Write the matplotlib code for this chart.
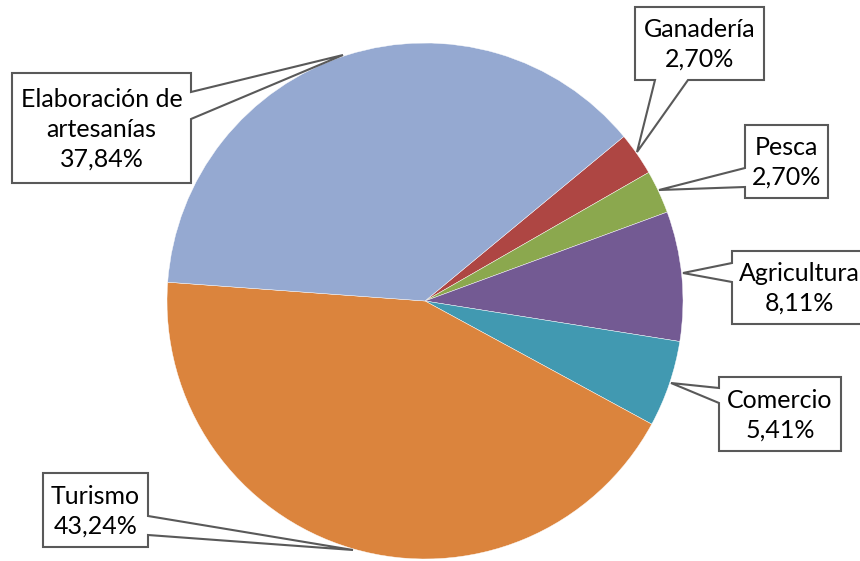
import matplotlib.pyplot as plt
from matplotlib.patches import Polygon

# datos (porcentajes)
sectores = ['Ganadería', 'Pesca', 'Agricultura', 'Comercio', 'Turismo', 'Elaboración de\nartesanías']
valores = [2.70, 2.70, 8.11, 5.41, 43.24, 37.84]
etiquetas = ['2,70%', '2,70%', '8,11%', '5,41%', '43,24%', '37,84%']
colores = ['#AE4643', '#8BA84E', '#735A93', '#4199B1', '#DB843D', '#95A9D1']

W, H = 860, 561
fig = plt.figure(figsize=(W / 100, H / 100), dpi=100)
ax = fig.add_axes([0, 0, 1, 1])

cx, cy, r = 425, H - 301, 258
ax.pie(valores, colors=colores, startangle=39.6, counterclock=False,
       center=(cx, cy), radius=r, frame=True,
       wedgeprops=dict(edgecolor='white', linewidth=0.3))
ax.set_xlim(0, W)
ax.set_ylim(0, H)
ax.axis('off')


def yy(v):
    return H - v


# cajas: (x0, y0, x1, y1), lado del puntero, puntos de anclaje, punta
cajas = [
    ((635, 7, 764, 80), 'bottom', (655, 688), (637, 152)),
    ((745, 125, 828, 198), 'left', (168, 187), (659, 190)),
    ((732, 251, 875, 324), 'left', (263, 282), (683, 273)),
    ((719, 377, 841, 451), 'left', (388, 403), (671, 383)),
    ((43, 473, 148, 547), 'right', (516, 535), (353, 550)),
    ((12, 73, 191, 183), 'right', (92, 119), (343, 55)),
]

for (caja, lado, anc, punta), nombre, et in zip(cajas, sectores, etiquetas):
    x0, y0, x1, y1 = caja
    a, b = anc
    if lado == 'left':
        pts = [(x0, y0), (x1, y0), (x1, y1), (x0, y1), (x0, b), punta, (x0, a)]
    elif lado == 'right':
        pts = [(x0, y0), (x1, y0), (x1, a), punta, (x1, b), (x1, y1), (x0, y1)]
    else:
        pts = [(x0, y0), (x1, y0), (x1, y1), (b, y1), punta, (a, y1), (x0, y1)]
    pts = [(px, yy(py)) for px, py in pts]
    ax.add_patch(Polygon(pts, closed=True, facecolor='white',
                         edgecolor='#595959', linewidth=1.5, zorder=5))
    xc = (x0 + x1) / 2
    if nombre == 'Agricultura':
        xc = 799
    ax.text(xc, yy((y0 + y1) / 2 + 1), nombre + '\n' + et,
            ha='center', va='center', fontsize=18, family='Lato',
            linespacing=1.35, zorder=6)

fig.savefig('out.png', dpi=100)
